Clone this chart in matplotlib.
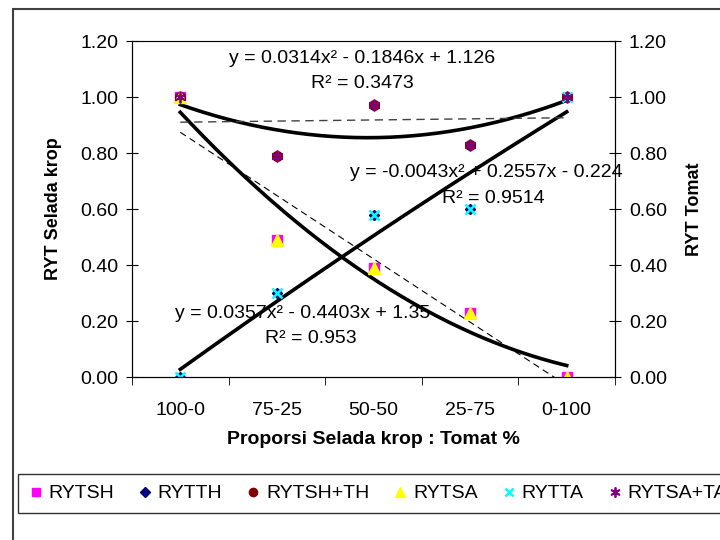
import numpy as np
import matplotlib.pyplot as plt
from matplotlib.patches import Rectangle

plt.rcParams['font.family'] = ['Liberation Sans', 'DejaVu Sans']

# data
categories = ['100-0', '75-25', '50-50', '25-75', '0-100']
rytsh = [1.00, 0.49, 0.39, 0.23, 0.00]
rytth = [0.00, 0.30, 0.58, 0.60, 1.00]
rytsh_th = [1.00, 0.79, 0.97, 0.83, 1.00]
rytsa = [1.00, 0.49, 0.39, 0.23, 0.00]
rytta = [0.00, 0.30, 0.58, 0.60, 1.00]
rytsa_ta = [1.00, 0.79, 0.97, 0.83, 1.00]

# polynomial trendline coefficients (as printed on the chart)
poly_sum = [0.0314, -0.1846, 1.126]
poly_tomat = [-0.0043, 0.2557, -0.224]
poly_selada = [0.0357, -0.4403, 1.35]

x = np.arange(1, len(categories) + 1)

fig = plt.figure(figsize=(7.2, 5.4), dpi=100)
ax = fig.add_axes([132/720, 1 - 377/540, (615 - 132)/720, (377 - 41)/540])

# series
ax.plot(x, rytsh, 's', color='#FF00FF', ms=7, label='RYTSH', zorder=3)
ax.plot(x, rytth, 'D', color='#000080', ms=5.5, label='RYTTH', zorder=3)
ax.plot(x, rytsh_th, 'o', color='#800000', ms=7, label='RYTSH+TH', zorder=3)
ax.plot(x, rytsa, '^', color='#FFFF00', ms=8, label='RYTSA', zorder=3)
ax.plot(x, rytta, 'x', color='#00FFFF', ms=7.5, mew=1.8, label='RYTTA', zorder=3)
ax.plot(x, rytsa_ta, marker=(6, 2, 0), ls='none', color='#800080', ms=8.5, mew=1.3,
        label='RYTSA+TA', zorder=3)

# trendlines
xs = np.linspace(1, 5, 200)
for c in [poly_sum, poly_tomat, poly_selada]:
    ax.plot(xs, np.polyval(c, xs), color='black', lw=2.6, zorder=2)
lin_sum = np.polyfit(x, rytsh_th, 1)
lin_selada = np.polyfit(x, rytsh, 1)
ax.plot(xs, np.polyval(lin_sum, xs), color='#404040', lw=1.0, ls=(0, (6, 4)), zorder=2)
ax.plot(xs, np.polyval(lin_selada, xs), color='black', lw=0.8, ls=(0, (6, 4)), zorder=2)

# equations
fs = 14
ax.text(2.88, 1.139, 'y = 0.0314x² - 0.1846x + 1.126', ha='center', va='center', fontsize=fs)
ax.text(2.88, 1.05, 'R² = 0.3473', ha='center', va='center', fontsize=fs)
ax.text(2.76, 0.729, 'y = -0.0043x² + 0.2557x - 0.224', ha='left', va='center',
        fontsize=fs, clip_on=False)
ax.text(3.71, 0.639, 'R² = 0.9514', ha='left', va='center', fontsize=fs)
ax.text(0.945, 0.225, 'y = 0.0357x² - 0.4403x + 1.35', ha='left', va='center', fontsize=fs)
ax.text(1.877, 0.139, 'R² = 0.953', ha='left', va='center', fontsize=fs)

# axes
ax.set_xlim(0.5, 5.5)
ax.set_ylim(0, 1.2)
yt = np.arange(0, 1.21, 0.2)
ax.set_yticks(yt)
ax.set_yticklabels(['%.2f' % v for v in yt], fontsize=fs)
ax.set_xticks(x)
ax.set_xticklabels(categories, fontsize=fs)
ax.set_xticks(np.arange(0.5, 5.6, 1), minor=True)
ax.tick_params(axis='x', which='major', length=0, pad=18)
ax.tick_params(axis='x', which='minor', length=6, direction='out')
ax.tick_params(axis='y', direction='inout', length=8, pad=6)
ax.spines['top'].set_color('#808080')
ax.set_ylabel('RYT Selada krop', fontsize=13, fontweight='bold', labelpad=13)
ax.set_xlabel('Proporsi Selada krop : Tomat %', fontsize=14, fontweight='bold', labelpad=9)

ax2 = ax.twinx()
ax2.set_ylim(0, 1.2)
ax2.set_yticks(yt)
ax2.set_yticklabels(['%.2f' % v for v in yt], fontsize=fs)
ax2.tick_params(axis='y', direction='inout', length=8, pad=6)
ax2.set_ylabel('RYT Tomat', fontsize=13, fontweight='bold', labelpad=14)

# outer frame
fig.patches.append(Rectangle((13/720, -0.1), 1.2, 1.1 - 9/540, transform=fig.transFigure,
                             fill=False, edgecolor='#404040', lw=1.5))

leg = fig.legend(loc='upper left', bbox_to_anchor=(18/720, 1 - 474/540), ncol=6,
                 fontsize=fs, frameon=True, fancybox=False, edgecolor='black',
                 handlelength=0.7, handletextpad=0.3, columnspacing=1.25,
                 borderpad=0.55, borderaxespad=0, markerscale=0.85)
leg.get_frame().set_linewidth(1.0)

fig.savefig('out.png', dpi=100)
